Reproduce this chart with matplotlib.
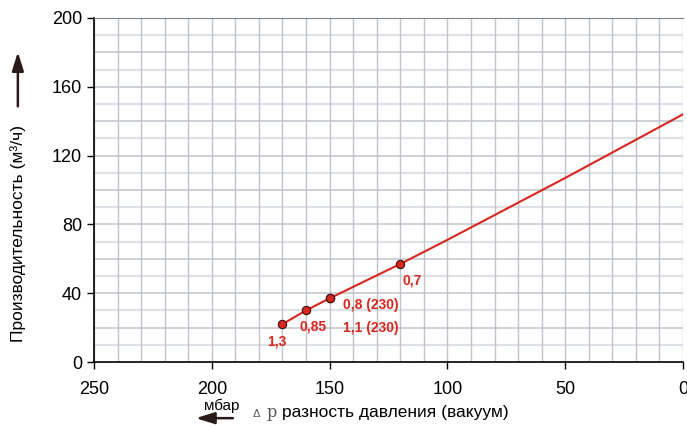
import matplotlib.pyplot as plt
from matplotlib.ticker import MultipleLocator

plt.rcParams['font.family'] = ['Liberation Sans', 'DejaVu Sans']

# curve data (pressure difference in mbar, capacity in m3/h)
dp = [170, 160, 150, 120, 100, 50, 0]
flow = [22, 30, 37, 57, 71, 107, 144]

# marked operating points
pt_dp = [170, 160, 150, 150, 120]
pt_flow = [22, 30, 37, 37, 57]
pt_labels = ["1,3", "0,85", "0,8 (230)", "1,1 (230)", "0,7"]
pt_offsets = [(-15, -17), (-7, -16), (13, -7), (13, -30), (2, -17)]

red = "#d7261e"

fig = plt.figure(figsize=(6.87, 4.28), dpi=100)
ax = fig.add_axes([0.1368, 0.1542, 0.8574, 0.8038])

ax.set_xlim(250, 0)
ax.set_ylim(0, 200)
ax.xaxis.set_major_locator(MultipleLocator(50))
ax.yaxis.set_major_locator(MultipleLocator(40))
ax.xaxis.set_minor_locator(MultipleLocator(10))
ax.grid(which="both", axis="x", color="#c0c4ca", linewidth=1)
for v in range(10, 200, 20):
    ax.axhline(v, color="#dde0e4", linewidth=1.6, zorder=0)
for v in range(20, 200, 20):
    ax.axhline(v, color="#c0c4ca", linewidth=1.1, zorder=0)
ax.set_axisbelow(True)

ax.tick_params(which="major", labelsize=13, length=5, width=1, color="black")
ax.tick_params(which="minor", length=0)
ax.tick_params(axis="x", pad=9)
ax.spines["right"].set_visible(False)
ax.spines["top"].set_color("#7d8288")
ax.spines["left"].set_linewidth(1.2)
ax.spines["bottom"].set_linewidth(1.2)

ax.plot(dp, flow, color=red, linewidth=1.5, zorder=3)
ax.plot(pt_dp, pt_flow, "o", color=red, markeredgecolor="#3a1010",
        markersize=6, markeredgewidth=0.8, zorder=4)
for x, y, lab, off in zip(pt_dp, pt_flow, pt_labels, pt_offsets):
    ax.annotate(lab, (x, y), xytext=off, textcoords="offset pixels",
                color=red, fontsize=10, fontweight="bold",
                ha="left", va="center")

# y-axis label with arrow
fig.text(0.026, 0.455, "Производительность (м³/ч)", rotation=90,
         fontsize=12.5, ha="center", va="center")
ax.annotate("", xy=(0.026, 0.885), xytext=(0.026, 0.745),
            xycoords="figure fraction",
            arrowprops=dict(arrowstyle="-|>,head_length=0.8,head_width=0.25",
                            color="#2a1a1a", lw=1.8, mutation_scale=14))

# x-axis label with arrow
fig.text(0.373, 0.033, "Δ", fontsize=8, ha="center", va="center",
         color="#555555")
fig.text(0.396, 0.036, "p", fontsize=11.5, family="DejaVu Serif",
         ha="center", va="center", color="#555555")
fig.text(0.410, 0.037, "разность давления (вакуум)", fontsize=12.5,
         ha="left", va="center")
fig.text(0.323, 0.052, "мбар", fontsize=11, ha="center", va="center")
ax.annotate("", xy=(0.281, 0.023), xytext=(0.343, 0.023),
            xycoords="figure fraction",
            arrowprops=dict(arrowstyle="-|>,head_length=0.8,head_width=0.25",
                            color="#2a1a1a", lw=1.8, mutation_scale=14))

fig.savefig("out.png", dpi=100)
